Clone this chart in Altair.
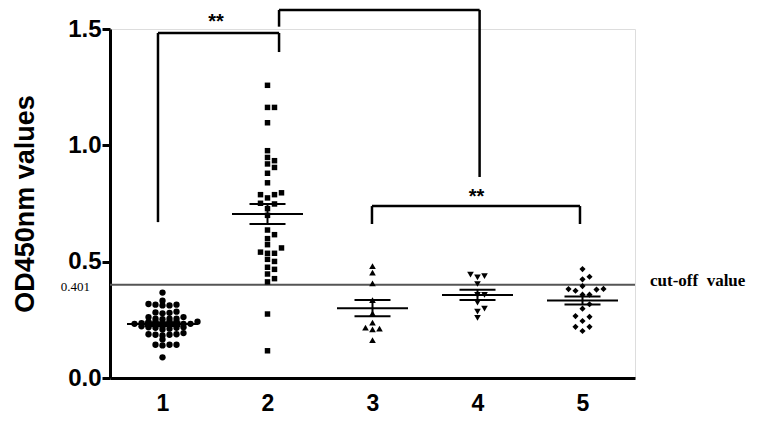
import altair as alt
import pandas as pd

# ---------------- data ----------------
groups = [1, 2, 3, 4, 5]
shapes = ["circle", "square", "triangle-up", "triangle-down", "diamond"]
marker_sizes = [40, 30, 44, 44, 38]
swarm_sep = [2.6, 6.0, 6.0, 6.0, 6.0]

g1_values = [0.367, 0.332, 0.315, 0.312, 0.315, 0.318, 0.312,
             0.285, 0.280, 0.278, 0.282, 0.262, 0.262,
             0.255, 0.255, 0.253, 0.255,
             0.242, 0.242, 0.242, 0.242, 0.242,
             0.228, 0.230, 0.230, 0.232, 0.233, 0.236, 0.233, 0.230, 0.233,
             0.220, 0.218, 0.216, 0.212, 0.216, 0.218, 0.222, 0.208,
             0.188, 0.186, 0.183, 0.186, 0.188, 0.193,
             0.166,
             0.143, 0.143, 0.140, 0.143,
             0.089]
g2_values = [1.258, 1.163, 1.163, 1.097, 0.977, 0.948, 0.934, 0.920, 0.905,
             0.880, 0.839, 0.796, 0.788, 0.774, 0.788, 0.751, 0.748, 0.728,
             0.699, 0.636, 0.616, 0.599, 0.573, 0.559, 0.536, 0.541, 0.536,
             0.510, 0.501, 0.467, 0.476, 0.447, 0.427, 0.413, 0.275, 0.117]
g3_values = [0.481, 0.453, 0.407, 0.335, 0.278, 0.238, 0.212, 0.209,
             0.217, 0.163]
g4_values = [0.433, 0.438, 0.444, 0.404, 0.357, 0.357, 0.324, 0.298,
             0.285, 0.258]
g5_values = [0.468, 0.435, 0.424, 0.395, 0.383, 0.380, 0.375, 0.382,
             0.358, 0.358, 0.317, 0.298, 0.263, 0.266, 0.245, 0.220,
             0.220, 0.202]
all_values = [g1_values, g2_values, g3_values, g4_values, g5_values]

means = [0.232, 0.705, 0.300, 0.357, 0.333]
sems = [0.008, 0.043, 0.035, 0.022, 0.017]

cutoff = 0.401
cutoff_label = "0.401"
cutoff_text = "cut-off\u00a0\u00a0value"

# significance brackets (data units): left x, right x, top y, left end y, right end y
br_left = [0.957, 2.11, 2.995]
br_right = [2.11, 4.02, 4.976]
br_top = [1.483, 1.582, 0.739]
br_left_end = [0.670, 1.510, 0.662]
br_right_end = [1.401, 0.864, 0.662]
star_x = [1.51, 3.99]
star_y = [1.547, 0.795]
star_text = ["**", "**"]

# ---------------- layout ----------------
W, H = 525, 349
X_DOM = [0.5, 5.5]
Y_DOM = [0.0, 1.5]
px_x = W / (X_DOM[1] - X_DOM[0])
px_y = H / (Y_DOM[1] - Y_DOM[0])


def swarm(values, sep, col=7.0):
    """Column dot-plot offsets (x data units): points sharing a column
    must be at least `sep` px apart vertically."""
    placed = {}
    offs = [0.0] * len(values)
    order = sorted(range(len(values)), key=lambda i: values[i])
    for i in order:
        yv = values[i] * px_y
        k = 0
        chosen = None
        while chosen is None:
            cands = [0] if k == 0 else [k, -k]
            for c in cands:
                if all(abs(yv - py) >= sep for py in placed.get(c, [])):
                    chosen = c
                    break
            k += 1
        placed.setdefault(chosen, []).append(yv)
        offs[i] = chosen * col / px_x
    return offs


rows = []
for g, vals, shp, sz, sp in zip(groups, all_values, shapes, marker_sizes, swarm_sep):
    for v, o in zip(vals, swarm(vals, sp)):
        rows.append({"x": g + o, "y": v, "shape": shp, "size": sz})
pts = pd.DataFrame(rows)

half_mean = 35.5 / px_x
half_sem = 18.0 / px_x
seg = []
for g, m, s in zip(groups, means, sems):
    seg.append({"x": g - half_mean, "x2": g + half_mean, "y": m, "y2": m, "w": 2})
    seg.append({"x": g - half_sem, "x2": g + half_sem, "y": m + s, "y2": m + s, "w": 2})
    seg.append({"x": g - half_sem, "x2": g + half_sem, "y": m - s, "y2": m - s, "w": 2})
    seg.append({"x": g, "x2": g, "y": m - s, "y2": m + s, "w": 2})
for xl, xr, yt, yl, yr in zip(br_left, br_right, br_top, br_left_end, br_right_end):
    seg.append({"x": xl, "x2": xr, "y": yt, "y2": yt, "w": 2.5})
    seg.append({"x": xl, "x2": xl, "y": yl, "y2": yt, "w": 2.5})
    seg.append({"x": xr, "x2": xr, "y": yr, "y2": yt, "w": 2.5})
segs = pd.DataFrame(seg)

cut_df = pd.DataFrame([{"x": X_DOM[0], "x2": X_DOM[1], "y": cutoff, "y2": cutoff}])
stars = pd.DataFrame({"x": star_x, "y": star_y, "t": star_text})

# ---------------- scales & axes ----------------
xscale = alt.Scale(domain=X_DOM, nice=False, zero=False)
yscale = alt.Scale(domain=Y_DOM, nice=False)
xaxis = alt.Axis(values=groups, format="d", tickSize=0, ticks=False,
                 labelFont="Liberation Sans", labelFontSize=23,
                 labelFontWeight="bold", labelColor="black", labelPadding=14,
                 domainColor="black", domainWidth=3, grid=False, title=None)
yaxis = alt.Axis(values=[0, 0.5, 1.0, 1.5], format=".1f", tickSize=8,
                 tickWidth=3, tickColor="black", domainColor="black",
                 domainWidth=3, labelFont="Liberation Sans", labelFontSize=24,
                 labelFontWeight="bold", labelColor="black", labelPadding=1,
                 grid=False, title="OD450nm values",
                 titleFont="Liberation Sans", titleFontSize=27,
                 titleFontWeight="bold", titleColor="black", titlePadding=28)


def X(f="x"):
    return alt.X(f"{f}:Q", scale=xscale, axis=xaxis)


def Y(f="y"):
    return alt.Y(f"{f}:Q", scale=yscale, axis=yaxis)


points = alt.Chart(pts).mark_point(filled=True, opacity=1, color="black",
                                   strokeWidth=0).encode(
    x=X(), y=Y(),
    shape=alt.Shape("shape:N", scale=None),
    size=alt.Size("size:Q", scale=None),
)

cut_line = alt.Chart(cut_df).mark_rule(color="#555555", strokeWidth=2).encode(
    x=X(), x2="x2:Q", y=Y(), y2="y2:Q")

lines = alt.Chart(segs).mark_rule(color="black").encode(
    x=X(), x2="x2:Q", y=Y(), y2="y2:Q",
    strokeWidth=alt.StrokeWidth("w:Q", scale=None))

cut_lab = alt.Chart(pd.DataFrame({"x": [X_DOM[0]], "y": [cutoff], "t": [cutoff_label]})).mark_text(
    align="right", baseline="middle", dx=-20, dy=2, font="Liberation Serif",
    fontSize=13, color="black").encode(x=X(), y=Y(), text="t:N")

cut_txt = alt.Chart(pd.DataFrame({"x": [X_DOM[1]], "y": [cutoff], "t": [cutoff_text]})).mark_text(
    align="left", baseline="middle", dx=15, dy=-4, font="Liberation Serif",
    fontSize=17, fontWeight="bold", color="black").encode(x=X(), y=Y(), text="t:N")

star_marks = alt.Chart(stars).mark_text(
    align="center", baseline="middle", dy=4, font="Liberation Sans",
    fontSize=20, fontWeight="bold", color="black").encode(x=X(), y=Y(), text="t:N")

chart = alt.layer(cut_line, lines, points, cut_lab, cut_txt, star_marks).properties(
    width=W, height=H,
    autosize=alt.AutoSizeParams(type="none"),
    padding={"left": 102, "top": 21, "right": 122, "bottom": 41},
).configure_view(stroke=None).configure(background="white")

chart.save("out.html", embed_options={"renderer": "svg", "actions": False})
